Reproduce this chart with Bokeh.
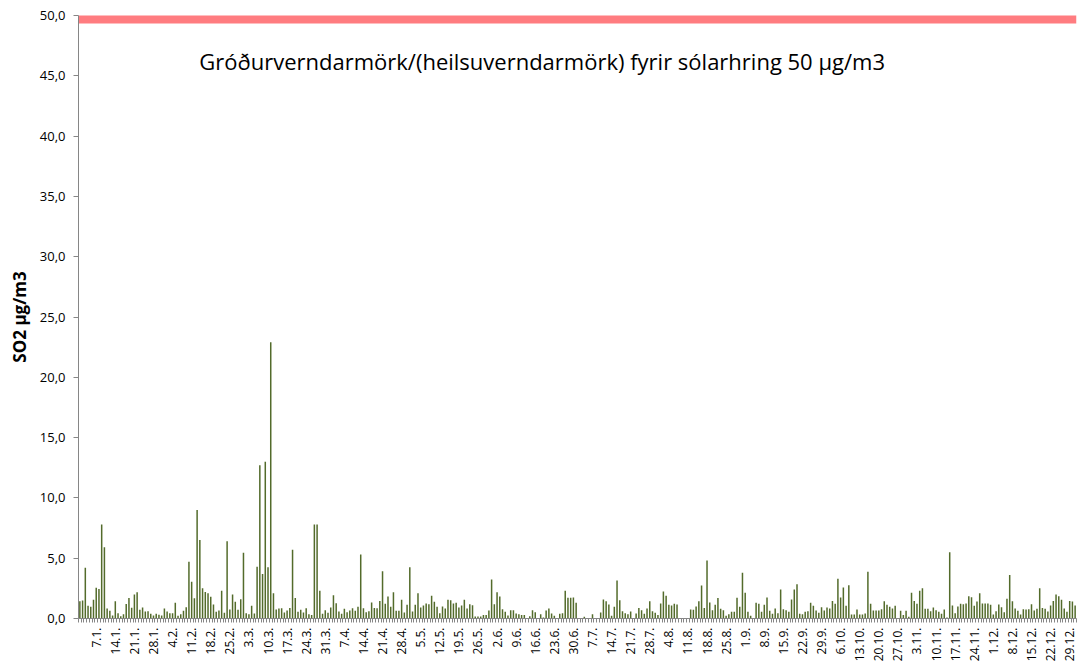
import math
from bokeh.plotting import figure
from bokeh.models import Range1d, FixedTicker, Label, CustomJSTickFormatter
from bokeh.embed import file_html
from bokeh.resources import INLINE

# Daily SO2 (µg/m3), leap year, 1.1. .. 31.12.
jan = [1.44, 1.5, 4.2, 1.05, 0.97, 1.55, 2.55, 2.45, 7.8, 5.9, 0.83, 0.64, 0.25, 1.42, 0.44, 0.19,
       0.36, 1.2, 1.7, 0.9, 2.0, 2.17, 0.72, 0.92, 0.58, 0.61, 0.39, 0.25, 0.39, 0.31, 0.25]
feb = [0.83, 0.58, 0.44, 0.44, 1.3, 0.22, 0.36, 0.64, 0.94, 4.7, 3.05, 1.67, 9.0, 6.5, 2.5, 2.2,
       2.1, 1.8, 1.17, 0.55, 0.66, 2.3, 0.47, 6.4, 0.75, 2.0, 1.38, 0.72, 1.6]
mar = [5.45, 0.44, 0.36, 1.05, 0.41, 4.3, 12.7, 3.7, 13.0, 4.25, 22.9, 2.1, 0.75, 0.83, 0.86, 0.5,
       0.66, 0.88, 5.7, 1.7, 0.55, 0.72, 0.5, 0.86, 0.36, 0.3, 7.8, 7.8, 2.3, 0.39, 0.69]
apr = [0.47, 0.92, 1.93, 1.27, 0.58, 0.39, 0.8, 0.52, 0.66, 0.86, 0.64, 0.97, 5.3, 0.86, 0.52, 0.61,
       1.33, 0.88, 0.86, 1.46, 3.92, 1.22, 1.82, 0.97, 2.18, 0.64, 0.64, 1.55, 0.5, 1.13]
may = [4.25, 0.58, 1.13, 2.1, 0.92, 1.08, 1.24, 1.19, 1.88, 1.38, 0.97, 0.44, 1.0, 0.83, 1.55, 1.52,
       1.24, 1.3, 0.92, 1.08, 1.55, 0.83, 1.19, 1.1, 0.17, 0.17, 0.17, 0.3, 0.3, 0.66, 3.23]
jun = [1.19, 2.18, 1.82, 0.77, 0.55, 0.25, 0.69, 0.69, 0.41, 0.36, 0.28, 0.28, 0.05, 0.19, 0.69, 0.52,
       0.05, 0.36, 0.08, 0.66, 0.83, 0.41, 0.22, 0.05, 0.39, 0.44, 2.3, 1.72, 1.72, 1.75]
jul = [1.3, 0.05, 0.05, 0.14, 0.05, 0.05, 0.36, 0.05, 0.05, 0.5, 1.58, 1.44, 1.17, 0.22, 0.97, 3.15,
       1.52, 0.61, 0.44, 0.36, 0.58, 0.05, 0.41, 0.88, 0.69, 0.39, 0.83, 1.44, 0.61, 0.47, 0.3]
aug = [1.24, 2.24, 1.88, 1.13, 1.08, 1.22, 1.17, 0.05, 0.05, 0.05, 0.05, 0.75, 0.72, 1.0, 1.44, 2.73,
       0.88, 4.8, 1.33, 0.69, 1.13, 1.69, 0.8, 0.69, 0.22, 0.36, 0.55, 0.55, 1.72, 0.97, 3.8]
sep = [2.13, 0.55, 0.22, 0.05, 1.3, 1.22, 0.55, 1.13, 1.75, 0.64, 0.39, 0.83, 0.44, 2.4, 0.77, 0.69,
       0.55, 1.58, 2.4, 2.85, 0.39, 0.36, 0.55, 0.61, 1.3, 1.05, 0.66, 0.47, 0.94, 0.66]
okt = [0.92, 0.83, 1.46, 1.22, 3.3, 1.75, 2.57, 1.05, 2.76, 0.33, 0.33, 0.75, 0.33, 0.33, 0.41, 3.87,
       1.22, 0.66, 0.66, 0.66, 0.77, 1.44, 1.13, 0.97, 0.83, 1.05, 0.05, 0.64, 0.3, 0.64, 0.14]
nov = [2.13, 1.46, 1.22, 2.3, 2.5, 0.8, 0.8, 0.61, 0.92, 0.69, 0.55, 0.39, 0.75, 0.08, 5.5, 1.08,
       0.44, 1.0, 1.22, 1.19, 1.24, 1.85, 1.77, 1.05, 1.41, 2.1, 1.24, 1.24, 1.24, 1.13]
des = [0.33, 0.61, 1.17, 0.94, 0.52, 1.63, 3.6, 1.44, 0.83, 0.64, 0.33, 0.77, 0.75, 0.77, 1.19, 0.66,
       0.8, 2.5, 0.88, 0.8, 0.58, 1.08, 1.46, 1.99, 1.85, 1.55, 0.83, 0.55, 1.46, 1.41, 1.08]

so2 = jan + feb + mar + apr + may + jun + jul + aug + sep + okt + nov + des
days = list(range(len(so2)))

tick_labels = ["7.1.", "14.1.", "21.1.", "28.1.", "4.2.", "11.2.", "18.2.", "25.2.", "3.3.", "10.3.",
               "17.3.", "24.3.", "31.3.", "7.4.", "14.4.", "21.4.", "28.4.", "5.5.", "12.5.", "19.5.",
               "26.5.", "2.6.", "9.6.", "16.6.", "23.6.", "30.6.", "7.7.", "14.7.", "21.7.", "28.7.",
               "4.8.", "11.8.", "18.8.", "25.8.", "1.9.", "8.9.", "15.9.", "22.9.", "29.9.", "6.10.",
               "13.10.", "20.10.", "27.10.", "3.11.", "10.11.", "17.11.", "24.11.", "1.12.", "8.12.",
               "15.12.", "22.12.", "29.12."]
tick_days = [6 + 7 * k for k in range(len(tick_labels))]

LIMIT = 50
limit_text = "Gróðurverndarmörk/(heilsuverndarmörk) fyrir sólarhring 50 µg/m3"
y_ticks = [0, 5, 10, 15, 20, 25, 30, 35, 40, 45, 50]

n = len(so2)
p = figure(width=1078, height=665, output_backend="svg", toolbar_location=None,
           x_range=Range1d(-0.5, n - 0.5), y_range=Range1d(0, 50),
           min_border_left=78, min_border_right=2, min_border_top=15, min_border_bottom=47)
p.outline_line_color = None
p.xgrid.visible = False
p.ygrid.visible = False
p.background_fill_color = "white"
p.border_fill_color = "white"

p.vbar(x=days, top=so2, width=0.55, fill_color="#536b2b", line_color=None)
p.line(x=[-0.5, n - 0.5], y=[LIMIT, LIMIT], line_width=16, line_color="#ff7c80")

p.add_layout(Label(x=43.8, y=46.2, text=limit_text, text_baseline="middle", text_align="left",
                   text_font="Open Sans", text_font_size="22px", text_color="#000000"))

ax = p.xaxis[0]
ax.ticker = FixedTicker(ticks=tick_days, minor_ticks=[k - 0.5 for k in range(n + 1)])
ax.major_label_overrides = {d: l for d, l in zip(tick_days, tick_labels)}
ax.major_label_orientation = math.pi / 2
ax.major_tick_out = 0
ax.major_tick_in = 0
ax.minor_tick_out = 4
ax.minor_tick_in = 0
ax.minor_tick_line_color = "#868686"
ax.axis_line_color = "#868686"
ax.major_label_standoff = 5
ax.major_label_text_font = "Open Sans"
ax.major_label_text_font_size = "12px"
ax.major_label_text_color = "#000000"

ay = p.yaxis[0]
ay.ticker = FixedTicker(ticks=y_ticks)
ay.formatter = CustomJSTickFormatter(code="return tick.toFixed(1).replace('.', ',');")
ay.major_tick_out = 5
ay.major_tick_in = 0
ay.minor_tick_out = 0
ay.minor_tick_in = 0
ay.major_tick_line_color = "#868686"
ay.axis_line_color = "#868686"
ay.major_label_standoff = 8
ay.major_label_text_font = "Open Sans"
ay.major_label_text_font_size = "13px"
ay.major_label_text_color = "#000000"
ay.axis_label = "SO2 µg/m3"
ay.axis_label_text_font = "Open Sans"
ay.axis_label_text_font_style = "bold"
ay.axis_label_text_font_size = "17px"
ay.axis_label_text_color = "#000000"
ay.axis_label_standoff = 6

open("out.html", "w").write(file_html(p, INLINE))
